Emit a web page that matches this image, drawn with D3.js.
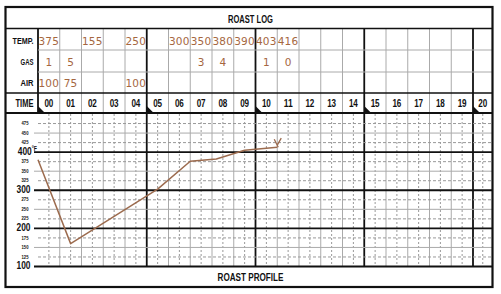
<!DOCTYPE html>
<html><head><meta charset="utf-8">
<script src="https://cdn.jsdelivr.net/npm/d3@7/dist/d3.min.js"></script>
<style>
html,body{margin:0;padding:0;background:#fff;}
svg{display:block;}
.lbl{font-family:"Liberation Sans",Arial,sans-serif;font-weight:bold;fill:#111;}
.hand{font-family:"DejaVu Sans","Open Sans",sans-serif;fill:#a5673f;font-weight:normal;}
</style></head>
<body>
<svg id="c" width="501" height="294"></svg>
<script>
// ---- data ----
const timeLabels = ["00","01","02","03","04","05","06","07","08","09","10","11","12","13","14","15","16","17","18","19","20"];
const rowLabels = ["TEMP.","GAS","AIR"];
const tempCols = [0,2,4,6,7,8,9,10,11];
const tempVals = ["375","155","250","300","350","380","390","403","416"];
const gasCols = [0,1,7,8,10,11];
const gasVals = ["1","5","3","4","1","0"];
const airCols = [0,1,4];
const airVals = ["100","75","100"];
const bigTicks = [100,200,300,400];
const smallTicks = [125,150,175,225,250,275,325,350,375,425,450,475];
const profileMinutes = [0, 1.5, 5.5, 7, 8.2, 9.5, 11];
const profileTemps = [380, 160, 303, 376, 382, 405, 413];

// ---- layout ----
const svg = d3.select("#c");
const L = 5.5, R = 492.5, T = 7, B = 287;
const x = d3.scaleLinear().domain([0,20]).range([38,473]);
const y = d3.scaleLinear().domain([100,500]).range([266.5,114]);
const rowY = [28.5,50,72,93,113];

function label(px, py, txt, size, len, anchor, weight) {
  const t = svg.append("text").attr("class","lbl").attr("x",px).attr("y",py)
    .attr("text-anchor",anchor || "middle").attr("font-size",size).text(txt);
  if (len) t.attr("textLength",len).attr("lengthAdjust","spacingAndGlyphs");
  if (weight) t.attr("font-weight",weight);
  return t;
}

// table vertical lines
for (let i = 0; i <= 20; i++) {
  const major = i % 5 === 0;
  svg.append("line").attr("x1",x(i)).attr("x2",x(i)).attr("y1",rowY[0]).attr("y2",rowY[4])
    .attr("stroke", major ? "#111" : "#aaa").attr("stroke-width", major ? 1.8 : 1);
}
// table horizontal
[50,72].forEach(v => svg.append("line").attr("x1",x(0)).attr("x2",R).attr("y1",v).attr("y2",v).attr("stroke","#aaa"));
svg.append("line").attr("x1",L).attr("x2",R).attr("y1",28.5).attr("y2",28.5).attr("stroke","#111").attr("stroke-width",1.5);
svg.append("line").attr("x1",L).attr("x2",R).attr("y1",93).attr("y2",93).attr("stroke","#111").attr("stroke-width",1.5);
svg.append("line").attr("x1",L).attr("x2",R).attr("y1",113).attr("y2",113).attr("stroke","#111").attr("stroke-width",2);

// chart grid: verticals
for (let i = 0; i < 21; i++) {
  const cx = i < 20 ? (x(i) + x(i+1)) / 2 : (x(20) + R) / 2;
  svg.append("line").attr("x1",cx).attr("x2",cx).attr("y1",y(500)).attr("y2",y(100))
    .attr("stroke","#999").attr("stroke-dasharray","2,2");
  if (i > 0) {
    const major = i % 5 === 0;
    svg.append("line").attr("x1",x(i)).attr("x2",x(i)).attr("y1",y(500)).attr("y2",y(100))
      .attr("stroke", major ? "#111" : "#aaa").attr("stroke-width", major ? 1.8 : 1);
  }
}
// chart grid: horizontals
for (let v = 125; v <= 475; v += 25) {
  if (v % 100 === 0) continue;
  if (v % 50 === 0) {
    svg.append("line").attr("x1",34).attr("x2",R).attr("y1",y(v)).attr("y2",y(v)).attr("stroke","#aaa");
  } else {
    svg.append("line").attr("x1",x(0)).attr("x2",R).attr("y1",y(v)).attr("y2",y(v))
      .attr("stroke","#999").attr("stroke-dasharray","3,2");
  }
}
bigTicks.forEach(v => svg.append("line").attr("x1",34).attr("x2",R).attr("y1",y(v)).attr("y2",y(v))
  .attr("stroke","#111").attr("stroke-width",1.8));

// corner triangles
[0,5,10,15,20].forEach(i => {
  const x0 = x(i);
  svg.append("path").attr("d",`M${x0},106 L${x0},113 L${x0+7},113 Z`).attr("fill","#111");
});

// outer frame
svg.append("rect").attr("x",L).attr("y",T).attr("width",R-L).attr("height",B-T)
  .attr("fill","none").attr("stroke","#111").attr("stroke-width",2.2);

// texts
label(250.5, 23, "ROAST LOG", 11, 45);
label(250.5, 281, "ROAST PROFILE", 11, 66);
const rowCenters = [40,61.5,82.5];
const rowLens = [21,13,13];
rowLabels.forEach((t,k) => label(33.5, rowCenters[k]+3.5, t, 9.5, rowLens[k], "end"));
label(33.5, 107, "TIME", 11, 18, "end");
timeLabels.forEach((t,i) => {
  const cx = i < 20 ? (x(i) + x(i+1)) / 2 : (x(20) + R) / 2;
  label(cx, 107, t, 10.5, 9, "middle", "600");
});
// y labels
smallTicks.forEach(v => label(28.5, y(v)+1.6, v, 5.5, 7, "end"));
bigTicks.forEach(v => {
  if (v === 400) {
    const g = svg.append("g").attr("transform", `translate(37,${y(v)+2.8}) scale(0.8,1)`);
    const t = g.append("text").attr("class","lbl").attr("text-anchor","end")
      .attr("font-size",10.5).attr("font-weight","normal");
    t.append("tspan").text(v);
    t.append("tspan").attr("font-size",6.5).attr("dy",-3.5).text("°F");
  } else {
    label(30.5, y(v)+2.8, v, 10.5, 14, "end", "normal");
  }
});

// handwritten entries
function hand(cols, vals, cy) {
  cols.forEach((c,k) => svg.append("text").attr("class","hand").attr("x",(x(c)+x(c+1))/2).attr("y",cy+4)
    .attr("text-anchor","middle").attr("font-size",10.5).attr("letter-spacing",0.3).text(vals[k]));
}
hand(tempCols, tempVals, 40.5);
hand(gasCols, gasVals, 61.5);
hand(airCols, airVals, 83);

// profile line
const line = d3.line().x((d,i) => x(profileMinutes[i])).y(d => y(d));
svg.append("path").attr("d", line(profileTemps)).attr("fill","none")
  .attr("stroke","#9c6b4e").attr("stroke-width",1.5).attr("stroke-linejoin","round");
// end mark
const ex = x(profileMinutes[profileMinutes.length-1]), ey = y(profileTemps[profileTemps.length-1]);
svg.append("path").attr("d",`M${ex-3},${ey-8} L${ex+1},${ey} M${ex+4},${ey-9} L${ex},${ey-2}`)
  .attr("stroke","#9c6b4e").attr("stroke-width",1.3).attr("fill","none");
</script>
</body></html>
